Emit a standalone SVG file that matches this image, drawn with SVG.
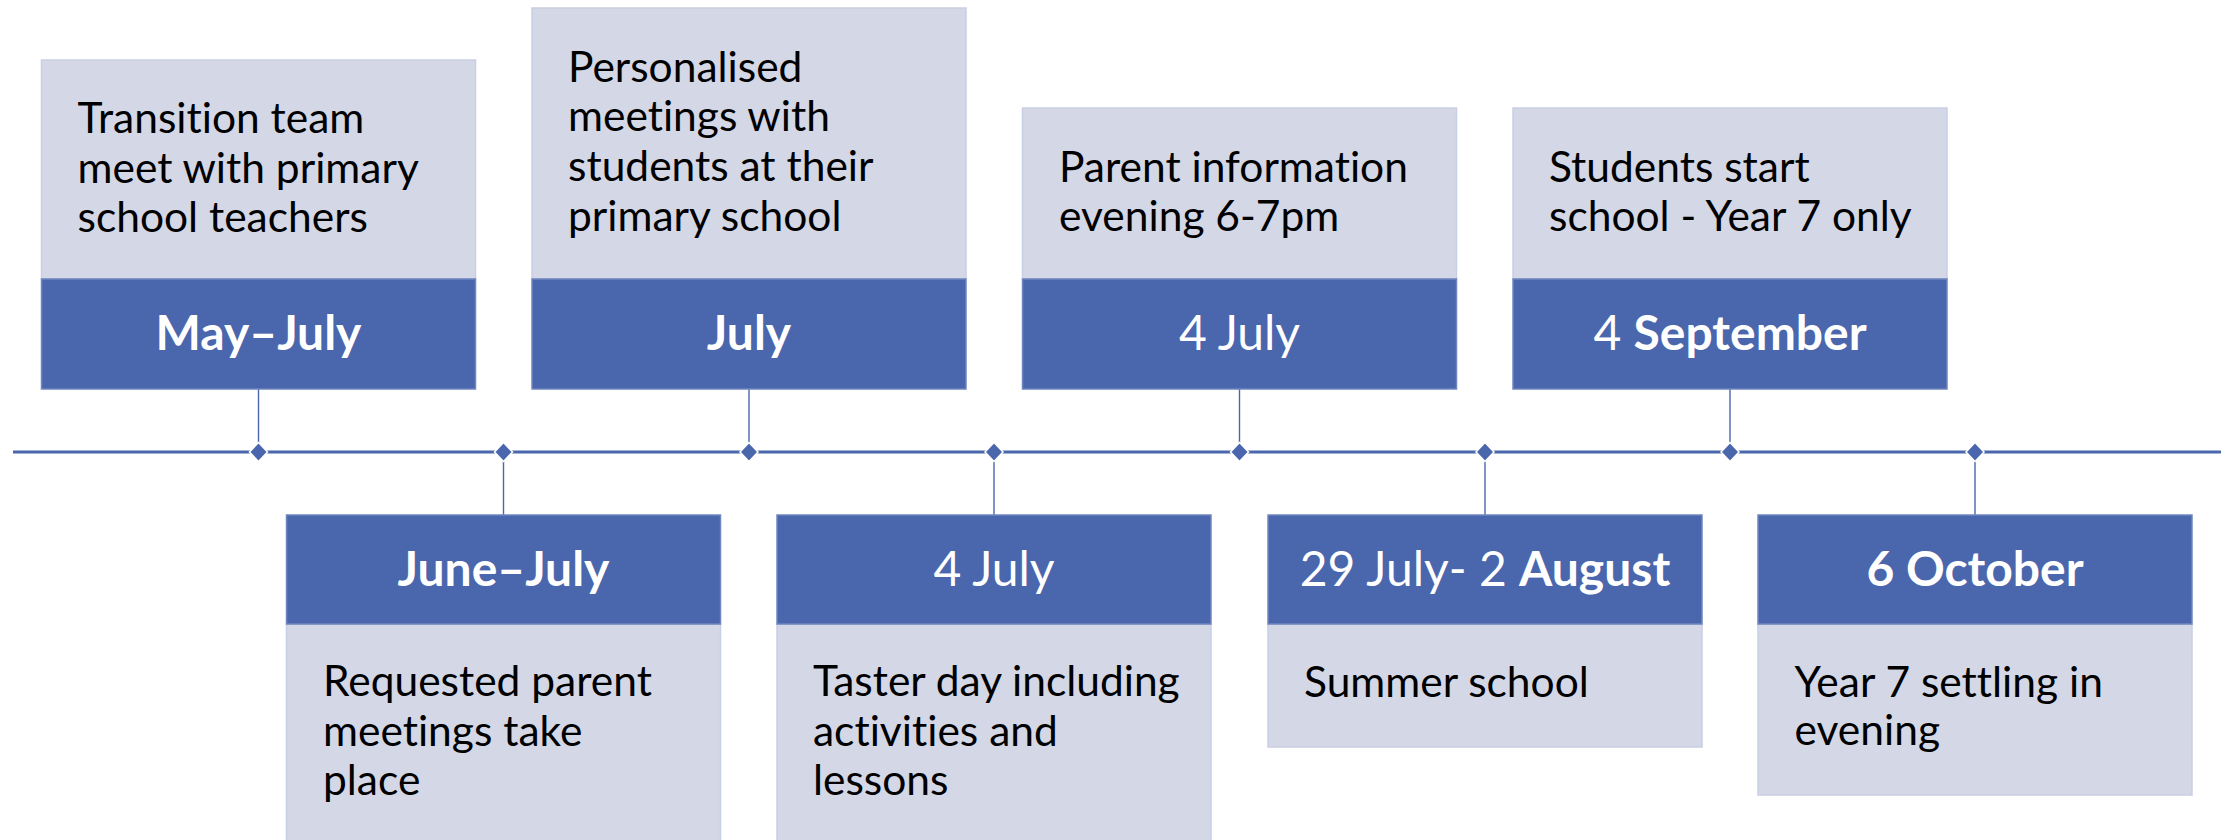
<svg xmlns="http://www.w3.org/2000/svg" width="2236" height="840" viewBox="0 0 2236 840">
<style>
.lt{fill:#d3d7e6;stroke:#c9cee2;stroke-width:1.5}
.dk{fill:#4a66ad;stroke:#6f86c0;stroke-width:1.5}
.body{font-family:Lato,"Liberation Sans",sans-serif;font-size:42.5px;fill:#000;font-variant-ligatures:none}
.lab{font-family:Lato,"Liberation Sans",sans-serif;font-size:48px;fill:#fff;text-anchor:middle}
.b{font-weight:bold}
.cn{stroke:#4a66ad;stroke-width:1.4;fill:none}
.tl{stroke:#4a66ad;stroke-width:3;fill:none}
.dm{fill:#4a66ad;stroke:#fff;stroke-width:1.5}
</style>
<defs>
<path id="dia" d="M0,-9.5 L9,0 L0,9.5 L-9,0 Z"/>
</defs>
<g id="connectors">
<line class="tl" x1="13" y1="452" x2="2221" y2="452"/>
<line class="cn" x1="258.5" y1="389" x2="258.5" y2="452"/>
<line class="cn" x1="503.5" y1="452" x2="503.5" y2="515"/>
<line class="cn" x1="749" y1="389" x2="749" y2="452"/>
<line class="cn" x1="994" y1="452" x2="994" y2="515"/>
<line class="cn" x1="1239.5" y1="389" x2="1239.5" y2="452"/>
<line class="cn" x1="1485" y1="452" x2="1485" y2="515"/>
<line class="cn" x1="1730" y1="389" x2="1730" y2="452"/>
<line class="cn" x1="1975" y1="452" x2="1975" y2="515"/>
<use href="#dia" class="dm" x="258.5" y="452"/>
<use href="#dia" class="dm" x="503.5" y="452"/>
<use href="#dia" class="dm" x="749" y="452"/>
<use href="#dia" class="dm" x="994" y="452"/>
<use href="#dia" class="dm" x="1239.5" y="452"/>
<use href="#dia" class="dm" x="1485" y="452"/>
<use href="#dia" class="dm" x="1730" y="452"/>
<use href="#dia" class="dm" x="1975" y="452"/>
</g>
<g id="n1">
<rect class="lt" x="41.5" y="60" width="434" height="219"/>
<rect class="dk" x="41.5" y="279" width="434" height="110"/>
<text class="body" x="77.5" y="133">Transition team</text>
<text class="body" x="77.5" y="183">meet with primary</text>
<text class="body" x="77.5" y="232">school teachers</text>
<text class="lab b" x="258.5" y="350">May–July</text>
</g>
<g id="n2">
<rect class="lt" x="286.5" y="624" width="434" height="230"/>
<rect class="dk" x="286.5" y="515" width="434" height="109"/>
<text class="lab b" x="503.5" y="586">June–July</text>
<text class="body" x="323" y="696">Requested parent</text>
<text class="body" x="323" y="746">meetings take</text>
<text class="body" x="323" y="795">place</text>
</g>
<g id="n3">
<rect class="lt" x="532" y="8" width="434" height="271"/>
<rect class="dk" x="532" y="279" width="434" height="110"/>
<text class="body" x="568" y="82">Personalised</text>
<text class="body" x="568" y="131">meetings with</text>
<text class="body" x="568" y="181">students at their</text>
<text class="body" x="568" y="231">primary school</text>
<text class="lab b" x="749" y="350">July</text>
</g>
<g id="n4">
<rect class="lt" x="777" y="624" width="434" height="230"/>
<rect class="dk" x="777" y="515" width="434" height="109"/>
<text class="lab" x="994" y="586">4 July</text>
<text class="body" x="813" y="696">Taster day including</text>
<text class="body" x="813" y="746">activities and</text>
<text class="body" x="813" y="795">lessons</text>
</g>
<g id="n5">
<rect class="lt" x="1022.5" y="108" width="434" height="171"/>
<rect class="dk" x="1022.5" y="279" width="434" height="110"/>
<text class="body" x="1059" y="182">Parent information</text>
<text class="body" x="1059" y="231">evening 6-7pm</text>
<text class="lab" x="1239.5" y="350">4 July</text>
</g>
<g id="n6">
<rect class="lt" x="1268" y="624" width="434" height="123"/>
<rect class="dk" x="1268" y="515" width="434" height="109"/>
<text class="lab" x="1485" y="586">29 July- 2 <tspan class="b">August</tspan></text>
<text class="body" x="1304" y="697">Summer school</text>
</g>
<g id="n7">
<rect class="lt" x="1513" y="108" width="434" height="171"/>
<rect class="dk" x="1513" y="279" width="434" height="110"/>
<text class="body" x="1549" y="182">Students start</text>
<text class="body" x="1549" y="231">school - Year 7 only</text>
<text class="lab" x="1730" y="350">4 <tspan class="b">September</tspan></text>
</g>
<g id="n8">
<rect class="lt" x="1758" y="624" width="434" height="171"/>
<rect class="dk" x="1758" y="515" width="434" height="109"/>
<text class="lab b" x="1975" y="586">6 October</text>
<text class="body" x="1794.5" y="697">Year 7 settling in</text>
<text class="body" x="1794.5" y="745">evening</text>
</g>
</svg>
